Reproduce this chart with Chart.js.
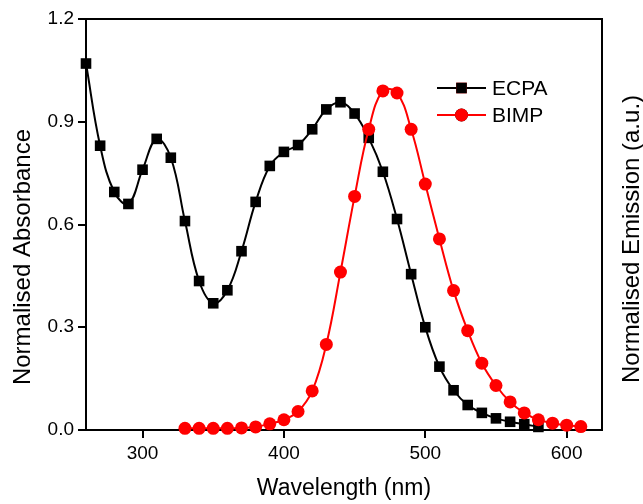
<!DOCTYPE html>
<html>
<head>
<meta charset="utf-8">
<script src="https://cdn.jsdelivr.net/npm/chart.js@4.4.1/dist/chart.umd.min.js"></script>
<style>
  html, body { margin: 0; padding: 0; background: #fff; }
  #wrap { width: 643px; height: 504px; }
</style>
</head>
<body>
<div id="wrap"><canvas id="spectraChart" width="643" height="504"></canvas></div>
<script>
// absorbance of ECPA (every 10 nm)
const ecpa_nm = [260, 270, 280, 290, 300, 310, 320, 330, 340, 350, 360, 370, 380, 390, 400, 410, 420, 430, 440, 450,
  460, 470, 480, 490, 500, 510, 520, 530, 540, 550, 560, 570, 580];
const ecpa_abs = [1.07, 0.83, 0.695, 0.66, 0.76, 0.85, 0.795, 0.61, 0.435, 0.37, 0.408, 0.522, 0.666, 0.771, 0.812, 0.832, 0.878, 0.936, 0.957, 0.924,
  0.853, 0.754, 0.616, 0.455, 0.30, 0.185, 0.116, 0.073, 0.05, 0.034, 0.024, 0.017, 0.009];

// emission of BIMP
const bimp_nm = [330, 340, 350, 360, 370, 380, 390, 400, 410, 420, 430, 440, 450, 460, 470, 480, 490, 500, 510, 520,
  530, 540, 550, 560, 570, 580, 590, 600, 610];
const bimp_em = [0.005, 0.005, 0.005, 0.005, 0.006, 0.009, 0.018, 0.03, 0.054, 0.114, 0.25, 0.461, 0.682, 0.878, 0.99, 0.984, 0.878, 0.718, 0.558, 0.407,
  0.29, 0.195, 0.13, 0.082, 0.05, 0.03, 0.02, 0.014, 0.01];

const x_ticks = [300, 400, 500, 600];
const y_ticks = [0, 0.3, 0.6, 0.9, 1.2];

const ecpa_points = ecpa_nm.map((w, i) => ({ x: w, y: ecpa_abs[i] }));
const bimp_points = bimp_nm.map((w, i) => ({ x: w, y: bimp_em[i] }));

const FONT = 'Arial, "Liberation Sans", sans-serif';

function sideTitle(ctx, text, x, y) {
  ctx.save();
  ctx.translate(x, y);
  ctx.rotate(-Math.PI / 2);
  ctx.font = '24px ' + FONT;
  ctx.textAlign = 'center';
  ctx.textBaseline = 'middle';
  ctx.fillStyle = '#000';
  ctx.fillText(text, 0, 0);
  ctx.restore();
}

// legend with line + marker, and both y titles (both read bottom to top)
const extrasPlugin = {
  id: 'extras',
  afterDraw(chart) {
    const ctx = chart.ctx;
    ctx.save();
    const items = [
      { label: 'ECPA', ds: chart.data.datasets[1], y: 88 },
      { label: 'BIMP', ds: chart.data.datasets[0], y: 115 }
    ];
    items.forEach(it => {
      const x0 = 437, x1 = 486;
      ctx.strokeStyle = it.ds.borderColor;
      ctx.lineWidth = 2;
      ctx.beginPath();
      ctx.moveTo(x0, it.y);
      ctx.lineTo(x1, it.y);
      ctx.stroke();
      Chart.helpers.drawPoint(ctx, {
        pointStyle: it.ds.pointStyle,
        radius: it.ds.pointRadius,
        borderWidth: 0
      }, (x0 + x1) / 2, it.y);
      ctx.fillStyle = it.ds.pointBackgroundColor;
      ctx.fill();
      ctx.fillStyle = '#000';
      ctx.font = '21px ' + FONT;
      ctx.textAlign = 'left';
      ctx.textBaseline = 'middle';
      ctx.fillText(it.label, 492, it.y + 1);
    });
    ctx.restore();

    sideTitle(ctx, 'Normalised Absorbance', 23, 257);
    sideTitle(ctx, 'Normalised Emission (a.u.)', 632, 239);
  }
};

const spectraConfig = {
  type: 'line',
  data: {
    datasets: [{
      label: 'BIMP',
      data: bimp_points,
      borderColor: '#ff0000',
      backgroundColor: '#ff0000',
      pointBackgroundColor: '#ff0000',
      pointBorderWidth: 0,
      pointStyle: 'circle',
      pointRadius: 6.5,
      borderWidth: 2,
      tension: 0.4,
      order: 1
    }, {
      label: 'ECPA',
      data: ecpa_points,
      borderColor: '#000000',
      backgroundColor: '#000000',
      pointBackgroundColor: '#000000',
      pointBorderWidth: 0,
      pointStyle: 'rect',
      pointRadius: 7.5,
      borderWidth: 2,
      tension: 0.4,
      order: 2
    }]
  },
  options: {
    responsive: false,
    animation: false,
    clip: false,
    layout: { padding: 0 },
    plugins: {
      legend: { display: false },
      tooltip: { enabled: false }
    },
    scales: {
      x: {
        type: 'linear',
        position: 'bottom',
        min: 260,
        max: 625,
        afterBuildTicks: scale => { scale.ticks = x_ticks.map(v => ({ value: v })); },
        afterFit: scale => { scale.height = 74; },
        grid: { display: true, drawOnChartArea: false, drawTicks: true, tickLength: 8, color: '#000', lineWidth: 2 },
        border: { display: true, color: '#000', width: 2 },
        ticks: { color: '#000', font: { size: 19, family: FONT }, padding: 4, maxRotation: 0 },
        title: { display: true, text: 'Wavelength (nm)', color: '#000', font: { size: 23, family: FONT }, padding: { top: 0, bottom: 2 } }
      },
      x2: {
        type: 'linear',
        position: 'top',
        min: 260,
        max: 625,
        afterFit: scale => { scale.height = 19; },
        grid: { display: false },
        border: { display: true, color: '#000', width: 2 },
        ticks: { display: false }
      },
      y: {
        position: 'left',
        min: 0,
        max: 1.2,
        afterBuildTicks: scale => { scale.ticks = y_ticks.map(v => ({ value: v })); },
        afterFit: scale => { scale.width = 86; },
        grid: { display: true, drawOnChartArea: false, drawTicks: true, tickLength: 8, color: '#000', lineWidth: 2 },
        border: { display: true, color: '#000', width: 2 },
        ticks: { color: '#000', font: { size: 19, family: FONT }, padding: 4, callback: v => v.toFixed(1) }
      },
      y2: {
        position: 'right',
        min: 0,
        max: 1.2,
        afterFit: scale => { scale.width = 41; },
        grid: { display: false },
        border: { display: true, color: '#000', width: 2 },
        ticks: { display: false }
      }
    }
  },
  plugins: [extrasPlugin]
};

const spectraChart = new Chart(document.getElementById('spectraChart'), spectraConfig);
</script>
</body>
</html>
